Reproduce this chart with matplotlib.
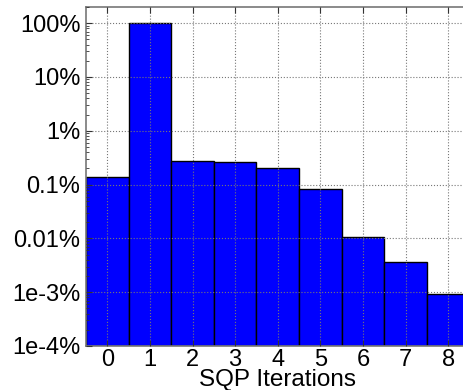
import numpy as np
import matplotlib
matplotlib.use('Agg')
import matplotlib.pyplot as plt
from matplotlib.ticker import FixedLocator, FixedFormatter, LogLocator, NullFormatter

plt.rcParams['font.family'] = ['Liberation Sans', 'DejaVu Sans']

# share of problems (in percent) per number of SQP iterations
iterations = [0, 1, 2, 3, 4, 5, 6, 7, 8]
percent = [0.14, 99.0, 0.275, 0.26, 0.20, 0.083, 0.0104, 0.0036, 0.00092]
ytick_vals = [1e-4, 1e-3, 1e-2, 1e-1, 1, 10, 100]
ytick_labels = ['1e-4%', '1e-3%', '0.01%', '0.1%', '1%', '10%', '100%']

YMIN, YMAX = 1e-4, 2e2

fig = plt.figure(figsize=(4.63, 3.9), dpi=100)
ax = fig.add_axes([86 / 463, 44 / 390, 383.5 / 463, 339 / 390])

ax.bar(iterations, np.array(percent) - YMIN, bottom=YMIN, width=1.0,
       color='#0000ff', edgecolor='black', linewidth=1.0, zorder=2)

ax.set_yscale('log')
ax.set_ylim(YMIN, YMAX)
ax.set_xlim(-0.5, 8.5)

ax.yaxis.set_major_locator(FixedLocator(ytick_vals))
ax.yaxis.set_major_formatter(FixedFormatter(ytick_labels))
ax.yaxis.set_minor_locator(LogLocator(base=10, subs=np.arange(2, 10)))
ax.yaxis.set_minor_formatter(NullFormatter())
ax.set_xticks(iterations)

ax.tick_params(axis='both', which='both', direction='in', labelsize=17,
               top=True, right=True, color='#333333')
ax.tick_params(axis='both', which='major', length=4, pad=4)
ax.tick_params(axis='x', which='major', pad=2)
ax.tick_params(axis='both', which='minor', length=2)

ax.grid(True, which='major', linestyle=':', color='#777777', linewidth=0.8, zorder=3)
ax.set_axisbelow(False)
for s in ax.spines.values():
    s.set_color('#777777')
    s.set_linewidth(1.2)

ax.set_xlabel('SQP Iterations', fontsize=17.5, labelpad=-1)

fig.savefig('out.png', dpi=100)
